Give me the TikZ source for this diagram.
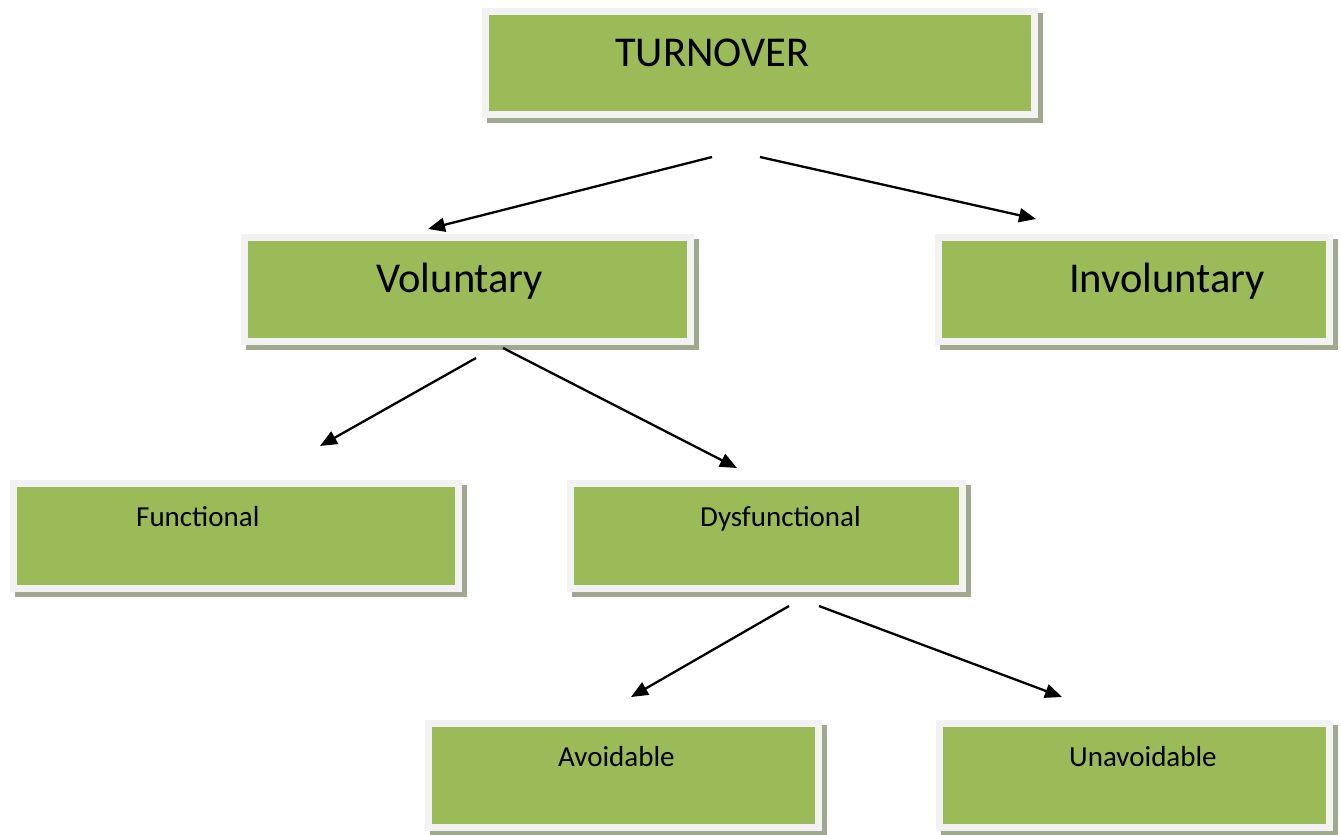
\documentclass[tikz,border=0pt]{standalone}
\usepackage{fontspec}
\setmainfont{Carlito}
\usetikzlibrary{arrows.meta}
\definecolor{boxgreen}{RGB}{155,187,89}
\definecolor{framegray}{RGB}{242,242,242}
\definecolor{shadowc}{RGB}{160,168,142}
\tikzset{
  gbox/.style={draw=framegray, line width=7pt, fill=boxgreen, inner sep=0pt, rectangle},
  bigtxt/.style={anchor=base west, inner sep=0pt, font=\fontsize{42.5}{48}\selectfont},
  smalltxt/.style={anchor=base west, inner sep=0pt, font=\fontsize{29}{34}\selectfont},
  arr/.style={line width=2.3pt, -{Triangle[length=17pt,width=14pt]}}
}
\newcommand{\mygbox}[5]{%
  % #1 name, #2 x1, #3 y1, #4 x2, #5 y2 (outer frame)
  \fill[shadowc] ({#2+5},{#3+5}) rectangle ({#4+5},{#5+5});
  \node[gbox, minimum width={(#4-#2-7)*1pt}, minimum height={(#5-#3-7)*1pt}] (#1) at ({(#2+#4)/2},{(#3+#5)/2}) {};
}
\begin{document}
\begin{tikzpicture}[x=1pt,y=-1pt]
\useasboundingbox (0,0) rectangle (1341,835);
\mygbox{turnover}{482}{8}{1038}{118}
\mygbox{voluntary}{241}{234}{694}{345}
\mygbox{involuntary}{935}{234}{1333}{345}
\mygbox{functional}{10}{480}{462}{592}
\mygbox{dysfunctional}{567}{480}{966}{592}
\mygbox{avoidable}{425}{720}{822}{831}
\mygbox{unavoidable}{936}{720}{1333}{831}

\node[bigtxt] (turnovert) at (615,66) {TURNOVER};
\node[bigtxt] (voluntaryt) at (376,292) {Voluntary};
\node[bigtxt] (involuntaryt) at (1069,292) {Involuntary};
\node[smalltxt] (functionalt) at (136,526) {Functional};
\node[smalltxt] (dysfunctionalt) at (700,526) {Dysfunctional};
\node[smalltxt] (avoidablet) at (558,766) {Avoidable};
\node[smalltxt] (unavoidablet) at (1069,766) {Unavoidable};

\coordinate (a1s) at (712,157); \coordinate (a1e) at (428,229);
\coordinate (a2s) at (760,157); \coordinate (a2e) at (1036,219);
\coordinate (a3s) at (476,358); \coordinate (a3e) at (320,446);
\coordinate (a4s) at (503,348); \coordinate (a4e) at (737,468);
\coordinate (a5s) at (789,606); \coordinate (a5e) at (631,697);
\coordinate (a6s) at (819,606); \coordinate (a6e) at (1062,697);
\draw[arr] (a1s) -- (a1e);
\draw[arr] (a2s) -- (a2e);
\draw[arr] (a3s) -- (a3e);
\draw[arr] (a4s) -- (a4e);
\draw[arr] (a5s) -- (a5e);
\draw[arr] (a6s) -- (a6e);
\end{tikzpicture}
\end{document}
